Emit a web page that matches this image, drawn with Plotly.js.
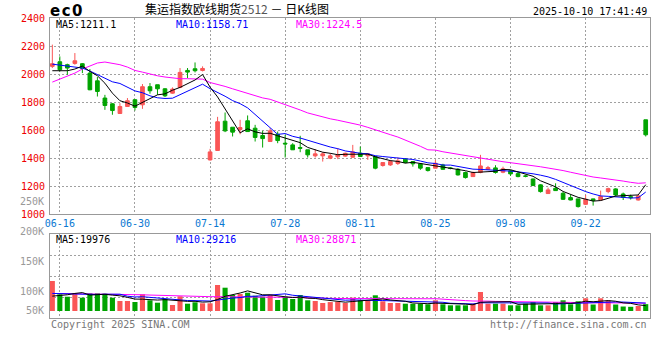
<!DOCTYPE html>
<html><head><meta charset="utf-8">
<script src="https://cdn.plot.ly/plotly-3.0.1.min.js"></script>
<style>html,body{margin:0;padding:0;background:#fff}#chart{width:660px;height:360px}</style>
</head><body><div id="chart"></div>
<script>
// ---------- data ----------
const dates = ['06-13',
 '06-16','06-17','06-18','06-19','06-20','06-23','06-24','06-25','06-26','06-27',
 '06-30','07-01','07-02','07-03','07-04','07-07','07-08','07-09','07-10','07-11',
 '07-14','07-15','07-16','07-17','07-18','07-21','07-22','07-23','07-24','07-25',
 '07-28','07-29','07-30','07-31','08-01','08-04','08-05','08-06','08-07','08-08',
 '08-11','08-12','08-13','08-14','08-15','08-18','08-19','08-20','08-21','08-22',
 '08-25','08-26','08-27','08-28','08-29','09-01','09-02','09-03','09-04','09-05',
 '09-08','09-09','09-10','09-11','09-12','09-15','09-16','09-17','09-18','09-19',
 '09-22','09-23','09-24','09-25','09-26','09-29','09-30','10-09','10-10'];

const open = [2055,2088,2067,2076,2074,2007,1952,1829,1788,1719,
 1769,1817,1781,1910,1924,1895,1864,1905,2026,2038,
 2026,1388,1455,1664,1621,1605,1667,1614,1562,1519,
 1571,1507,1495,1476,1460,1417,1417,1400,1410,1415,
 1407,1436,1417,1412,1348,1352,1362,1393,1376,1360,
 1333,1329,1352,1331,1321,1298,1269,1298,1321,1331,
 1300,1310,1290,1274,1252,1210,1148,1186,1150,1119,
 1110,1071,1110,1102,1162,1181,1145,1126,1102,1674];
const high = [2210,2126,2074,2150,2079,2036,1979,1852,1793,1793,
 1829,1821,1929,1936,1924,1900,1905,2043,2043,2083,
 2055,1467,1695,1726,1621,1674,1705,1638,1595,1614,
 1590,1567,1507,1560,1460,1464,1443,1436,1471,1440,
 1495,1483,1436,1417,1369,1388,1405,1400,1376,1364,
 1333,1388,1360,1336,1329,1305,1305,1424,1345,1350,
 1340,1317,1305,1281,1255,1214,1190,1221,1160,1138,
 1110,1138,1112,1169,1190,1186,1155,1140,1138,1674];
const low = [2043,2019,1995,2067,2007,1885,1840,1745,1710,1719,
 1767,1740,1752,1860,1852,1836,1860,1900,1971,2012,
 2019,1383,1455,1586,1555,1571,1590,1519,1476,1519,
 1507,1405,1460,1443,1405,1405,1376,1393,1393,1410,
 1405,1410,1388,1321,1340,1345,1352,1364,1340,1317,
 1305,1329,1317,1321,1276,1255,1269,1293,1317,1290,
 1293,1274,1264,1264,1202,1155,1148,1167,1102,1100,
 1048,1067,1062,1100,1150,1126,1102,1105,1098,1555];
const close = [2074,2031,2043,2095,2040,1888,1876,1776,1740,1769,
 1810,1762,1910,1881,1895,1845,1893,2012,2014,2024,
 2040,1445,1660,1595,1586,1619,1590,1548,1540,1595,
 1526,1502,1460,1471,1424,1431,1431,1417,1424,1435,
 1445,1412,1431,1329,1369,1376,1381,1369,1360,1329,
 1312,1364,1321,1327,1281,1262,1298,1345,1333,1298,
 1324,1288,1269,1271,1205,1162,1174,1169,1107,1102,
 1055,1107,1098,1126,1183,1138,1121,1119,1131,1567];

const ma5 = [2024,2022,2024,2036,2057,2019,1988,1935,1864,1810,
 1794,1771,1798,1826,1852,1859,1885,1905,1932,1958,
 1997,1907,1837,1753,1665,1581,1610,1588,1577,1578,
 1560,1542,1525,1511,1477,1458,1443,1435,1425,1428,
 1430,1427,1429,1410,1397,1383,1377,1365,1371,1363,
 1350,1347,1337,1331,1321,1311,1298,1303,1304,1307,
 1320,1318,1302,1290,1271,1239,1216,1196,1163,1143,
 1121,1108,1094,1098,1114,1130,1133,1137,1138,1211.1];
const ma10 = [2071,2064,2057,2050,2043,2022,1995,1968,1945,1933,
 1907,1880,1867,1845,1831,1826,1828,1852,1879,1905,
 1928,1896,1871,1842,1811,1789,1759,1712,1665,1622,
 1570,1576,1556,1544,1528,1509,1493,1480,1468,1452,
 1444,1435,1432,1418,1412,1407,1402,1397,1391,1380,
 1367,1362,1351,1351,1342,1331,1322,1320,1317,1314,
 1315,1308,1303,1297,1289,1279,1267,1249,1227,1207,
 1180,1162,1145,1131,1128,1126,1121,1116,1118,1158.71];
const ma30 = [1943,1964,1983,2007,2036,2060,2079,2086,2079,2067,
 2050,2026,2014,2000,1988,1979,1971,1967,1967,1967,
 1964,1940,1928,1912,1895,1878,1862,1846,1830,1820,
 1802,1784,1765,1744,1723,1708,1693,1681,1671,1660,
 1647,1636,1620,1601,1584,1568,1551,1530,1508,1485,
 1460,1458,1446,1437,1427,1415,1406,1399,1392,1382,
 1375,1368,1362,1355,1348,1339,1330,1322,1312,1300,
 1287,1277,1266,1259,1253,1245,1237,1228,1221,1224.5];

const volume = [111000,61800,52900,65500,49200,65500,65500,64000,49200,37000,
 37000,33300,61800,39600,30700,44400,22200,54400,27000,32200,
 28500,28500,96200,86200,59200,62900,67700,56600,52900,59200,
 40700,52900,44400,59200,39600,37000,29600,33000,34400,29600,
 49200,39600,39600,58100,35900,29600,29600,27000,27000,27000,
 24800,39600,24800,21100,21100,21100,27000,70300,27000,27000,
 27000,21100,21100,27000,33300,21100,21100,33300,39600,24800,
 36000,47000,24000,47000,38300,24000,16600,15500,18500,25300];
const volMa5 = [55000,57000,60000,65000,68100,59000,59700,61900,58700,56200,
 50500,44100,43700,41700,40500,42000,39700,38300,35700,36000,
 32900,34100,42500,54300,59700,66600,74400,66500,59900,59900,
 55400,52500,50000,51300,47400,46600,42000,39700,34700,32700,
 35200,37200,38500,43200,44500,40600,38600,36000,29800,28000,
 27100,29100,28600,27500,26300,25500,23000,32100,33300,34500,
 35700,34500,24600,24600,25900,24700,24700,27200,29700,28000,
 31000,36100,34300,35800,38500,36100,30000,28300,22600,19976];
const volMa10 = [65000,64000,63000,62000,61000,61000,61000,62000,62000,62200,
 54800,51900,52800,50200,48400,46300,41900,41000,38700,38300,
 37400,36900,40400,45000,47900,49700,54300,54500,57100,59800,
 61000,63500,58300,55600,53600,51000,47200,44900,43000,40000,
 40900,39600,39100,39000,38600,37900,37900,37300,36500,36300,
 33800,33800,32300,28600,27200,26300,26100,30400,30400,30400,
 30600,28800,28400,29000,30200,30200,29600,25900,27200,26900,
 27800,30400,30700,32700,33200,33500,33100,31300,29200,29216];
const volMa30 = [65000,64800,64600,64400,64200,64000,63800,63600,63300,63000,
 62000,61000,60000,59000,58000,57000,56000,55500,55000,54000,
 53500,53000,53000,53000,53000,53000,53000,53000,53000,53400,
 51100,50800,50500,50300,50000,49000,47800,46800,46300,46000,
 46400,46600,45900,46500,46700,46200,46500,45500,45500,45400,
 45200,45600,43200,41100,39800,38400,37000,37500,36600,35600,
 35100,34000,33300,32200,32000,31500,31200,31200,31400,31200,
 30800,31000,30500,30100,30200,30000,29600,29200,28900,28871];

const priceTicks = [1000,1200,1400,1600,1800,2000,2200,2400];
const dateTicks = ['06-16','06-30','07-14','07-28','08-11','08-25','09-08','09-22'];
const volTickLabels = ['250K','200K','150K','100K','50K'];
const symbol = 'e\u200Ac\u200A0';
const titleMain = '集运指数欧线期货';
const titleCode = '2512';
const titleTail = ' － 日K线图';
const timestamp = '2025-10-10 17:41:49';
const copyright = 'Copyright 2025 SINA.COM';
const siteUrl = 'http://finance.sina.com.cn';

// ---------- chart ----------
const UP = '#fa5656', DOWN = '#00a400';
const C5 = '#000000', C10 = '#0000ff', C30 = '#ff00ff';
const x = dates.map((d, i) => i);
const last = a => a[a.length - 1];
const volColors = close.map((c, i) => c >= open[i] ? UP : DOWN);
const MONO = 'DejaVu Sans Mono, monospace';

const traces = [
  {type:'scatter', mode:'lines', x:x, y:ma30, line:{color:C30,width:1}, xaxis:'x', yaxis:'y', hoverinfo:'skip'},
  {type:'scatter', mode:'lines', x:x, y:ma10, line:{color:C10,width:1}, xaxis:'x', yaxis:'y', hoverinfo:'skip'},
  {type:'candlestick', x:x, open:open, high:high, low:low, close:close, xaxis:'x', yaxis:'y',
   increasing:{line:{color:UP,width:1}, fillcolor:UP},
   decreasing:{line:{color:DOWN,width:1}, fillcolor:DOWN},
   whiskerwidth:0, hoverinfo:'skip'},
  {type:'scatter', mode:'lines', x:x, y:ma5, line:{color:C5,width:1}, xaxis:'x', yaxis:'y', hoverinfo:'skip'},
  {type:'bar', x:x, y:volume, marker:{color:volColors, line:{width:0}}, width:0.68, xaxis:'x2', yaxis:'y2', hoverinfo:'skip'},
  {type:'scatter', mode:'lines', x:x, y:volMa30, line:{color:C30,width:1}, xaxis:'x2', yaxis:'y2', hoverinfo:'skip'},
  {type:'scatter', mode:'lines', x:x, y:volMa10, line:{color:C10,width:1}, xaxis:'x2', yaxis:'y2', hoverinfo:'skip'},
  {type:'scatter', mode:'lines', x:x, y:volMa5, line:{color:C5,width:1}, xaxis:'x2', yaxis:'y2', hoverinfo:'skip'}
];

const XR = [-0.31, 79.57];
const VR = [-25900, 284900];
const tickIdx = dateTicks.map(d => dates.indexOf(d));
const gridCommon = {showgrid:true, gridcolor:'#a0a0a0', griddash:'2px,2px', gridwidth:1,
  zeroline:false, showline:true, mirror:true, linecolor:'#999', linewidth:1, ticks:''};

const volGrid = [1,2,3].map(k => VR[0] + (VR[1]-VR[0]) * k / 4);
const volLabelPx = [201, 231, 261, 291, 310];

const ann = [];
const addText = (text, px, py, anchor, color, size, family, extra) => {
  ann.push(Object.assign({text:text, xref:'paper', yref:'paper', x:(px-50)/600, y:(318-py)/300,
    xanchor:anchor, yanchor:'middle', showarrow:false,
    font:{color:color, size:size, family:family}}, extra||{}));
};
addText('<b>'+symbol+'</b>', 48, 11, 'left', '#000', 15, 'DejaVu Sans, sans-serif');
addText(timestamp, 649, 12, 'right', '#000', 10, MONO);
addText('MA5:' + last(ma5), 54, 24, 'left', C5, 10, MONO);
addText('MA10:' + last(ma10), 174, 24, 'left', C10, 10, MONO);
addText('MA30:' + last(ma30), 294, 24, 'left', C30, 10, MONO);
addText('MA5:' + last(volMa5), 54, 239, 'left', C5, 10, MONO);
addText('MA10:' + last(volMa10), 174, 239, 'left', C10, 10, MONO);
addText('MA30:' + last(volMa30), 294, 239, 'left', C30, 10, MONO);
volTickLabels.forEach((t, i) => addText(t, 46, volLabelPx[i], 'right', '#999', 10, MONO));
addText(copyright, 49, 324, 'left', '#777', 10, MONO);
addText(siteUrl, 649, 324, 'right', '#777', 10, MONO);

const layout = {
  width:660, height:360,
  margin:{l:50, r:10, t:18, b:42},
  paper_bgcolor:'#fff', plot_bgcolor:'#fff',
  showlegend:false,
  font:{family:MONO, size:10, color:'#000'},
  title:{text: titleMain + '<span style="color:#555">' + titleCode + '</span>' + titleTail,
    xref:'container', yref:'container', x:237/660, y:1-10/360, xanchor:'center', yanchor:'middle',
    font:{family:'Noto Sans CJK SC, sans-serif', size:12, color:'#000'}},
  boxgap:0.3,
  xaxis:Object.assign({}, gridCommon, {domain:[0,1], range:XR, anchor:'y', tickmode:'array', tickvals:tickIdx,
    ticktext:dateTicks, tickfont:{color:'#0a78d2', size:10, family:MONO}, rangeslider:{visible:false}, fixedrange:true}),
  yaxis:Object.assign({}, gridCommon, {domain:[(318-214.3)/300, 1], range:[priceTicks[0], last(priceTicks)], anchor:'x',
    tickmode:'array', tickvals:priceTicks, ticktext:priceTicks.map(String),
    tickfont:{color:'#ee0000', size:10, family:MONO}, ticklabelstandoff:2}),
  xaxis2:Object.assign({}, gridCommon, {domain:[0,1], range:XR, anchor:'y2', tickmode:'array', tickvals:tickIdx,
    showticklabels:false}),
  yaxis2:Object.assign({}, gridCommon, {domain:[0, (318-234)/300], range:VR, anchor:'x2',
    tickmode:'array', tickvals:volGrid, showticklabels:false}),
  annotations:ann
};

Plotly.newPlot('chart', traces, layout, {staticPlot:true, displayModeBar:false});
</script>
</body></html>
